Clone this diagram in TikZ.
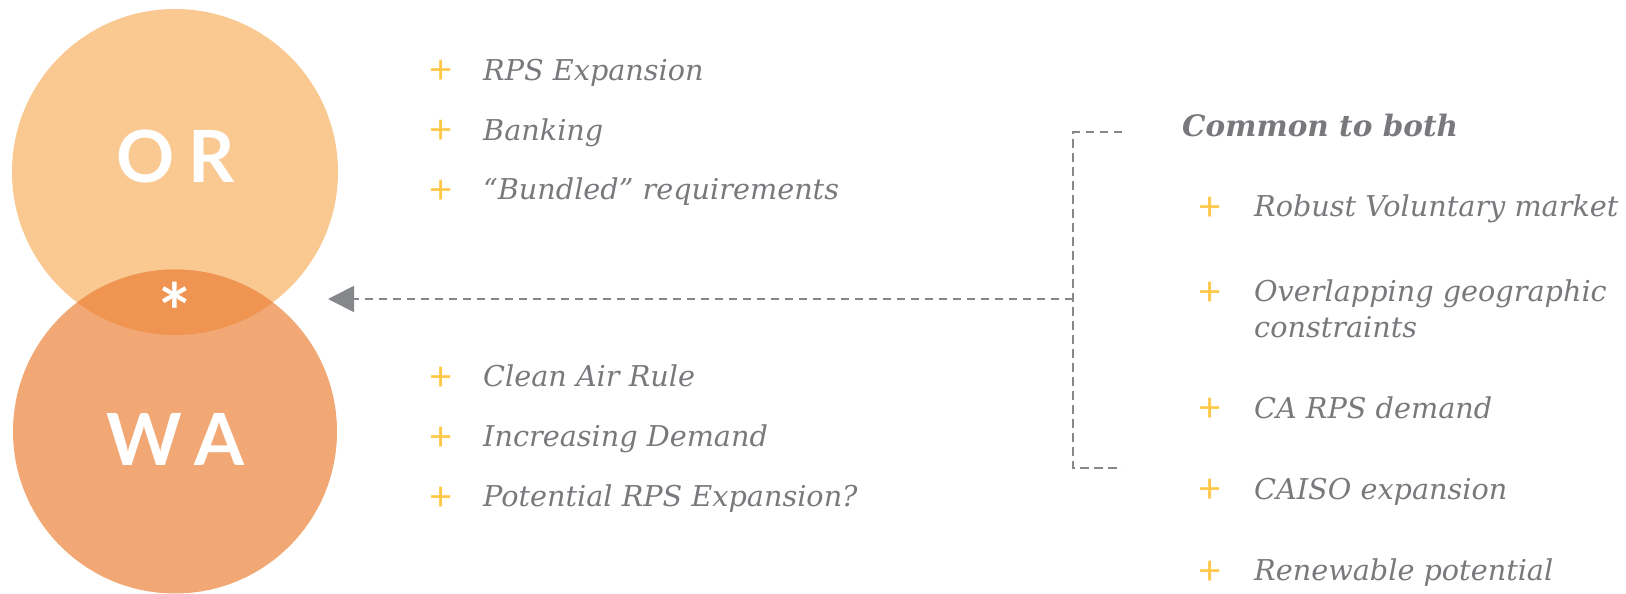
\documentclass[tikz,border=0pt]{standalone}
\usepackage{fontspec}
\setmainfont{DejaVu Serif}
\newfontfamily\latof{Lato}
\usetikzlibrary{arrows.meta}
\definecolor{orc}{RGB}{250,201,145}
\definecolor{wac}{RGB}{241,168,116}
\definecolor{lensc}{RGB}{240,149,81}
\definecolor{txtg}{RGB}{120,121,124}
\definecolor{plusy}{RGB}{255,200,72}
\definecolor{lineg}{RGB}{134,135,138}
\begin{document}
\begin{tikzpicture}[x=1pt,y=-1pt,
  item/.style={anchor=base west, inner sep=0pt, text=txtg, align=left,
    font=\fontsize{28.7}{35.3}\selectfont\itshape},
  head/.style={anchor=base west, inner sep=0pt, text=txtg,
    font=\fontsize{29.5}{35}\selectfont\bfseries\itshape},
  plusmark/.style={anchor=base, inner sep=0pt, text=plusy, yshift=-3.5pt,
    font=\latof\fontsize{40}{40}\selectfont},
  big/.style={text=white, font=\latof\bfseries\fontsize{72}{72}\selectfont, inner sep=0pt},
  conn/.style={draw=lineg, line width=1.8pt, dash pattern=on 8.5pt off 5.5pt}]
\useasboundingbox (0,0) rectangle (1626,594);
% circles
\fill[orc] (175,172) circle (163pt);
\fill[wac] (175,431.5) circle (162pt);
\begin{scope}
  \clip (175,172) circle (163pt);
  \fill[lensc] (175,431.5) circle (162pt);
\end{scope}
\node[big] (or) at (175.5,156) {O\kern14pt R};
\node[big] (wa) at (175.5,439) {W\kern13pt A};
\node[text=white, inner sep=0pt, anchor=base, font=\latof\bfseries\fontsize{77}{77}\selectfont] (ast) at (175,340) {*};
% left lists
\node[plusmark] (p1) at (441,80.5) {+};
\node[item] (t1) at (483,80.5) {RPS Expansion};
\node[plusmark] (p2) at (441,140) {+};
\node[item] (t2) at (483,140) {Banking};
\node[plusmark] (p3) at (441,199.5) {+};
\node[item] (t3) at (483,199.5) {“Bundled” requirements};
\node[plusmark] (p4) at (441,386.7) {+};
\node[item] (t4) at (483,386.7) {Clean Air Rule};
\node[plusmark] (p5) at (441,446.7) {+};
\node[item] (t5) at (483,446.7) {Increasing Demand};
\node[plusmark] (p6) at (441,506.7) {+};
\node[item] (t6) at (483,506.7) {Potential RPS Expansion?};
% right column
\node[head] (common) at (1182,136) {Common to both};
\node[plusmark] (q1) at (1210,216.7) {+};
\node[item] (r1) at (1254,216.7) {Robust Voluntary market};
\node[plusmark] (q2) at (1210,301.7) {+};
\node[item] (r2) at (1254,337) {Overlapping geographic\\constraints};
\node[plusmark] (q3) at (1210,418) {+};
\node[item] (r3) at (1254,418) {CA RPS demand};
\node[plusmark] (q4) at (1210,499) {+};
\node[item] (r4) at (1254,499) {CAISO expansion};
\node[plusmark] (q5) at (1210,580.7) {+};
\node[item] (r5) at (1254,580.7) {Renewable potential};
% connector
\coordinate (btop) at (1122,132);
\coordinate (ctop) at (1073,132);
\coordinate (cbot) at (1073,468);
\coordinate (bbot) at (1122,468);
\coordinate (join) at (1073,299);
\coordinate (tip) at (328,299);
\draw[conn] (btop) -- (ctop) -- (cbot) -- (bbot);
\draw[conn, -{Triangle[length=26pt,width=26pt,fill=lineg]}] (join) -- (tip);
\end{tikzpicture}
\end{document}
